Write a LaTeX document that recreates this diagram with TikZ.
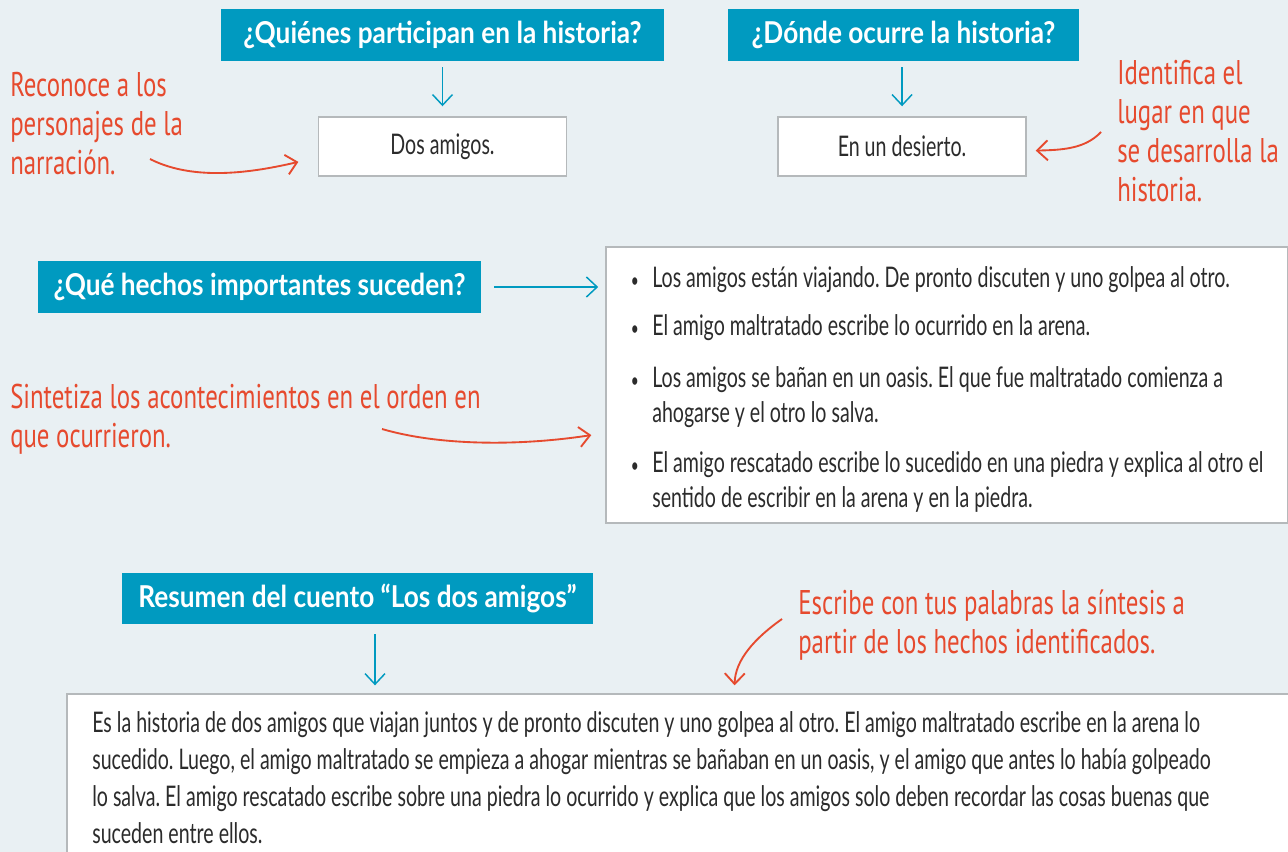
\documentclass[tikz,border=0pt]{standalone}
\usepackage{fontspec}
\setmainfont{Lato}
\newfontfamily\headfont{Lato}[FakeStretch=0.87]
\newfontfamily\bodyfont{Lato}[FakeStretch=0.69]
\newfontfamily\handfont{PT Sans}[FakeStretch=0.725]
\usepackage{tikz}
\usetikzlibrary{positioning, arrows.meta}
\definecolor{paper}{HTML}{E9F0F3}
\definecolor{teal}{HTML}{009AC0}
\definecolor{pen}{HTML}{E64A2E}
\definecolor{frame}{HTML}{B5B9BB}
\definecolor{ink}{HTML}{2B2B2B}
\frenchspacing
\tikzset{
question/.style={fill=teal, text=white, inner sep=0pt, minimum height=39pt,
  font=\headfont\bfseries\fontsize{22.6}{26}\selectfont}, % teal header boxes
answer/.style={draw=frame, line width=1pt, fill=white, text=ink, inner sep=0pt,
  font=\bodyfont\fontsize{21.3}{26}\selectfont}, % white answer boxes
item/.style={anchor=base west, inner sep=0pt, align=left, text=ink,
  font=\bodyfont\fontsize{21.3}{26.25}\selectfont}, % text inside the boxes
note/.style={anchor=base west, inner sep=0pt, align=left, text=pen,
  font=\handfont\fontsize{25.7}{29.25}\selectfont}, % hand-written remarks
flow/.style={-{Straight Barb[length=8pt,width=15pt]}, draw=teal, line width=1.1pt}, % teal arrows
hint/.style={-{Straight Barb[length=8pt,width=15pt]}, draw=pen, line width=1.4pt}, % red curved arrows
node distance=41.25pt, % header to answer box
}
\newcommand{\bul}{\llap{{\fontsize{15}{15}\selectfont •}\hspace{10pt}}}
\begin{document}
\begin{tikzpicture}[x=0.75pt, y=-0.75pt]
  \fill[paper] (0,0) rectangle (1288,852);
  \useasboundingbox (0,0) rectangle (1288,852);
  % who and where (multi-line texts sit on their last baseline)
  \node[question, minimum width=332.25pt] (q1) at (442.5,35) {¿Quiénes participan en la historia?};
  \node[question, minimum width=263.25pt] (q2) at (903.5,35) {¿Dónde ocurre la historia?};
  \node[answer, below=of q1, minimum width=186pt, minimum height=44.25pt] (a1) {Dos amigos.};
  \node[answer, below=of q2, minimum width=186pt, minimum height=44.25pt, xshift=-1.1pt] (a2) {En un desierto.};
  \draw[flow, shorten <=4.5pt, shorten >=7.5pt] (q1) -- (a1);
  \draw[flow, shorten <=4.5pt, shorten >=7.5pt] (q2.south -| a2) -- (a2);
  \node[note] (n1) at (10,175) {Reconoce a los\\personajes de la\\narración.};
  \node[note] (n2) at (1117,202) {Identifica el\\lugar en que\\se desarrolla la\\historia.};
  \coordinate (t1) at (150,159);
  \coordinate (t2) at (1101,132);
  \draw[hint, shorten >=15pt] (t1) .. controls (195,182) and (255,172) .. (a1.185);
  \draw[hint, shorten >=6.75pt] (t2) .. controls (1085,149) and (1062,150) .. (a2.-2);
  % events
  \node[question, minimum width=332.25pt] (q3) at (259.5,287) {¿Qué hechos importantes suceden?};
  \node[answer, minimum width=511pt, minimum height=207pt] (hechos) at (946.5,385) {};
  \draw[flow, shorten <=9.75pt, shorten >=5.25pt] (q3.east) -- (q3.east -| hechos.west);
  \node[item] (e1) at (652,287) {\bul Los amigos están viajando. De pronto discuten y uno golpea al otro.};
  \node[item] (e2) at (652,335) {\bul El amigo maltratado escribe lo ocurrido en la arena.};
  \node[item] (e3) at (652,422) {\bul Los amigos se bañan en un oasis. El que fue maltratado comienza a\\ahogarse y el otro lo salva.};
  \node[item] (e4) at (652,507) {\bul El amigo rescatado escribe lo sucedido en una piedra y explica al otro el\\sentido de escribir en la arena y en la piedra.};
  \node[note] (n3) at (10,447) {Sintetiza los acontecimientos en el orden en\\que ocurrieron.};
  \coordinate (t3) at (382,429);
  \draw[hint, shorten >=10.5pt] (t3) .. controls (440,446) and (520,446) .. (hechos.188);
  % summary
  \node[question, minimum width=353.25pt, minimum height=38.25pt] (q4) at (357.5,598.5) {Resumen del cuento “Los dos amigos”};
  \node[answer, minimum width=919pt, minimum height=126pt] (res) at (679.5,778) {};
  \coordinate (r4) at (375,0);
  \draw[flow, shorten <=7.5pt, shorten >=6pt] (q4.south -| r4) -- (res.north -| r4);
  \node[item, font=\bodyfont\fontsize{21.3}{27.75}\selectfont] (s) at (92,843)
    {Es la historia de dos amigos que viajan juntos y de pronto discuten y uno golpea al otro. El amigo maltratado escribe en la arena lo\\
     sucedido. Luego, el amigo maltratado se empieza a ahogar mientras se bañaban en un oasis, y el amigo que antes lo había golpeado\\
     lo salva. El amigo rescatado escribe sobre una piedra lo ocurrido y explica que los amigos solo deben recordar las cosas buenas que\\
     suceden entre ellos.};
  \node[note] (n4) at (798,653) {Escribe con tus palabras la síntesis a\\partir de los hechos identificados.};
  \coordinate (t4) at (782,619);
  \draw[hint, shorten >=6pt] (t4) .. controls (755,638) and (735,660) .. (res.57.5);
\end{tikzpicture}
\end{document}
